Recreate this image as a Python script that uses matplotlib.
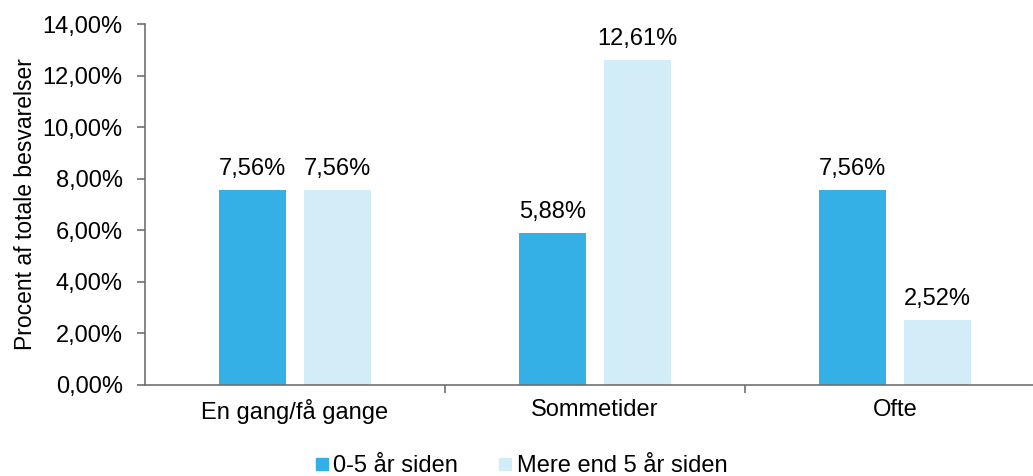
import matplotlib
matplotlib.use("Agg")
import matplotlib.pyplot as plt
import numpy as np

plt.rcParams['font.family'] = ['Liberation Sans', 'DejaVu Sans']

categories = ['En gang/få gange', 'Sommetider', 'Ofte']
series_names = ['0-5 år siden', 'Mere end 5 år siden']
recent = [7.56, 5.88, 7.56]
older = [7.56, 12.61, 2.52]
colors = ['#35B0E6', '#D2ECF8']

fs = 17
fig = plt.figure(figsize=(10.33, 4.76), dpi=100)
ax = fig.add_axes([145/1033, 1 - 385/476, 900/1033, 361/476])

x = np.arange(len(categories))
w = 0.223
off = 0.1417
b1 = ax.bar(x - off, recent, w, color=colors[0], label=series_names[0])
b2 = ax.bar(x + off, older, w, color=colors[1], label=series_names[1])

for bars, vals in ((b1, recent), (b2, older)):
    for r, v in zip(bars, vals):
        ax.text(r.get_x() + r.get_width()/2, v + 0.4, ('%.2f%%' % v).replace('.', ','),
                ha='center', va='bottom', fontsize=fs)

ax.set_xlim(-0.5, 2.5)
ax.set_ylim(0, 14)
yt = np.arange(0, 15, 2)
ax.set_yticks(yt)
ax.set_yticklabels([('%.2f%%' % t).replace('.', ',') for t in yt], fontsize=fs)
ax.set_xticks(x)
ax.set_xticklabels(categories, fontsize=fs)
ax.set_xticks([0.5, 1.5], minor=True)
ax.tick_params(axis='x', which='major', length=0, pad=10)
ax.tick_params(axis='x', which='minor', length=6, width=1.2, color='#707070')
ax.tick_params(axis='y', length=6, width=1.2, color='#707070', pad=10)
ax.set_ylabel('Procent af totale besvarelser', fontsize=16.5, labelpad=4)

for s in ['top', 'right']:
    ax.spines[s].set_visible(False)
for s in ['left', 'bottom']:
    ax.spines[s].set_color('#707070')
    ax.spines[s].set_linewidth(1.2)

handles = [plt.Line2D([], [], marker='s', linestyle='none', markersize=9,
                      markerfacecolor=c, markeredgecolor=c) for c in colors]
fig.legend(handles, series_names, loc='center', bbox_to_anchor=(520/1033, 1 - 466/476),
           ncol=2, frameon=False, fontsize=17, handletextpad=0.1, columnspacing=1.6,
           handlelength=0.8, borderpad=0)

fig.savefig('out.png', dpi=100)
